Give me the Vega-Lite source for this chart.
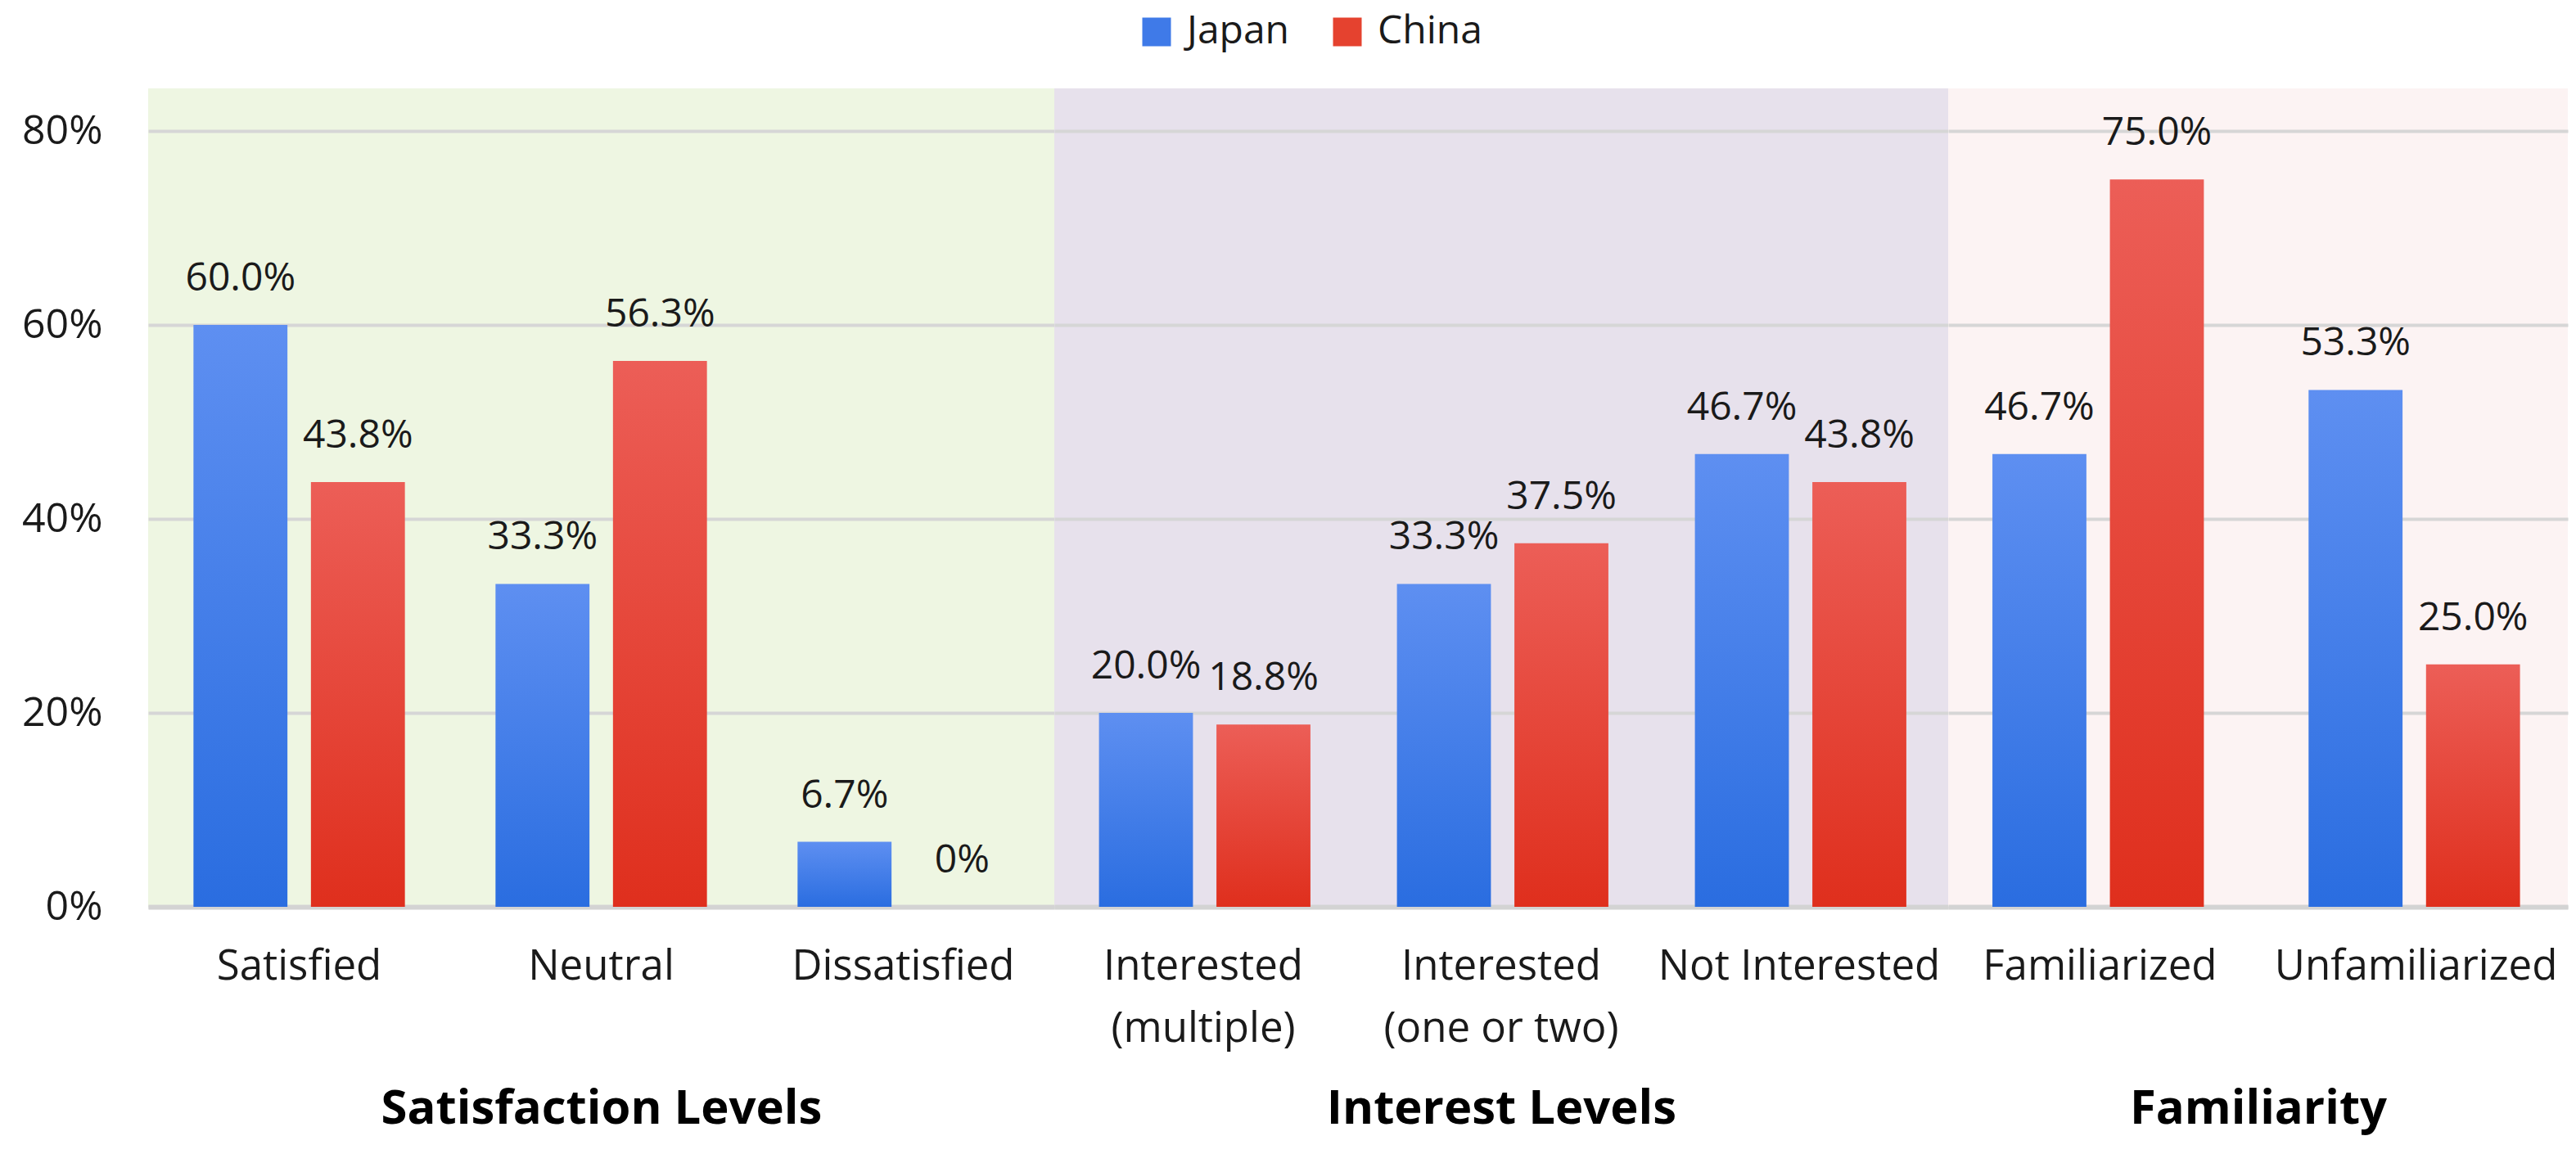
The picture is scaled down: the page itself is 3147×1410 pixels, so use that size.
{
  "$schema": "https://vega.github.io/schema/vega-lite/v6.json",
  "padding": {"left": 26, "top": 15, "right": 10, "bottom": 5},
  "background": "white",
  "data": {"name": "bars"},
  "datasets": {
    "bars": [
      {"group": "Satisfaction Levels", "category": "Satisfied", "country": "Japan", "value": 0.600, "label": "60.0%"},
      {"group": "Satisfaction Levels", "category": "Satisfied", "country": "China", "value": 0.438, "label": "43.8%"},
      {"group": "Satisfaction Levels", "category": "Neutral", "country": "Japan", "value": 0.333, "label": "33.3%"},
      {"group": "Satisfaction Levels", "category": "Neutral", "country": "China", "value": 0.563, "label": "56.3%"},
      {"group": "Satisfaction Levels", "category": "Dissatisfied", "country": "Japan", "value": 0.067, "label": "6.7%"},
      {"group": "Satisfaction Levels", "category": "Dissatisfied", "country": "China", "value": 0.0, "label": "0%"},
      {"group": "Interest Levels", "category": "Interested\n(multiple)", "country": "Japan", "value": 0.200, "label": "20.0%"},
      {"group": "Interest Levels", "category": "Interested\n(multiple)", "country": "China", "value": 0.188, "label": "18.8%"},
      {"group": "Interest Levels", "category": "Interested\n(one or two)", "country": "Japan", "value": 0.333, "label": "33.3%"},
      {"group": "Interest Levels", "category": "Interested\n(one or two)", "country": "China", "value": 0.375, "label": "37.5%"},
      {"group": "Interest Levels", "category": "Not Interested", "country": "Japan", "value": 0.467, "label": "46.7%"},
      {"group": "Interest Levels", "category": "Not Interested", "country": "China", "value": 0.438, "label": "43.8%"},
      {"group": "Familiarity", "category": "Familiarized", "country": "Japan", "value": 0.467, "label": "46.7%"},
      {"group": "Familiarity", "category": "Familiarized", "country": "China", "value": 0.750, "label": "75.0%"},
      {"group": "Familiarity", "category": "Unfamiliarized", "country": "Japan", "value": 0.533, "label": "53.3%"},
      {"group": "Familiarity", "category": "Unfamiliarized", "country": "China", "value": 0.250, "label": "25.0%"}
    ]
  },
  "config": {
    "font": "Open Sans",
    "view": {"stroke": null},
    "concat": {"spacing": 0},
    "axisX": {
      "labelAngle": 0,
      "labelFontSize": 51,
      "labelColor": "#1a1a1a",
      "labelPadding": 48,
      "labelLineHeight": 76,
      "labelLimit": 0,
      "labelExpr": "split(datum.label, '\\n')",
      "ticks": false,
      "domainColor": "#d3d3d3",
      "domainWidth": 6,
      "titleFontSize": 58,
      "titleFontWeight": "bold",
      "titleColor": "#000000",
      "titleBaseline": "middle",
      "titleY": 247
    },
    "axisY": {
      "format": ".0%",
      "labelFontSize": 50,
      "labelColor": "#1a1a1a",
      "labelPadding": 56,
      "ticks": false,
      "domain": false,
      "gridColor": "#d6d6d6",
      "gridWidth": 4,
      "title": null
    },
    "legend": {
      "orient": "none",
      "direction": "horizontal",
      "legendX": 1208,
      "legendY": -93,
      "title": null,
      "symbolType": "square",
      "symbolSize": 1225,
      "symbolStrokeWidth": 0,
      "labelFontSize": 48,
      "labelColor": "#1a1a1a",
      "labelOffset": 13,
      "columnPadding": 46
    }
  },
  "hconcat": [
    {
      "width": 1107,
      "height": 1000,
      "view": {"fill": "#eef6e2", "stroke": null},
      "transform": [{"filter": "datum.group === 'Satisfaction Levels'"}],
      "encoding": {
        "x": {"field": "category", "type": "nominal", "sort": ["Satisfied", "Neutral", "Dissatisfied"], "scale": {"paddingInner": 0.3, "paddingOuter": 0.15}, "axis": {"title": "Satisfaction Levels"}},
        "xOffset": {"field": "country", "type": "nominal", "sort": ["Japan", "China"], "scale": {"paddingInner": 0.2}},
        "y": {"field": "value", "type": "quantitative", "scale": {"domain": [0, 0.844]}, "axis": {"values": [0, 0.2, 0.4, 0.6, 0.8]}}
      },
      "layer": [
        {
          "mark": {"type": "bar"},
          "encoding": {
            "color": {"condition": {"test": "datum.country === 'Japan'", "value": {"gradient": "linear", "x1": 0, "y1": 0, "x2": 0, "y2": 1, "stops": [{"offset": 0, "color": "#5e8ff1"}, {"offset": 1, "color": "#2a6de0"}]}},
              "value": {"gradient": "linear", "x1": 0, "y1": 0, "x2": 0, "y2": 1, "stops": [{"offset": 0, "color": "#ec5e57"}, {"offset": 1, "color": "#df2f1d"}]}}
          }
        },
        {
          "mark": {"type": "text", "dy": -56, "fontSize": 48, "color": "#1a1a1a"},
          "encoding": {"text": {"field": "label", "type": "nominal"}}
        },
        {
          "transform": [{"filter": "false"}],
          "mark": {"type": "bar"},
          "encoding": {
            "color": {"field": "country", "type": "nominal", "scale": {"domain": ["Japan", "China"], "range": ["#3f7ae8", "#e5422f"]}}
          }
        }
      ]
    },
    {
      "width": 1092,
      "height": 1000,
      "view": {"fill": "#e7e1ec", "stroke": null},
      "transform": [{"filter": "datum.group === 'Interest Levels'"}],
      "encoding": {
        "x": {"field": "category", "type": "nominal", "sort": ["Interested\n(multiple)", "Interested\n(one or two)", "Not Interested"], "scale": {"paddingInner": 0.3, "paddingOuter": 0.15}, "axis": {"title": "Interest Levels"}},
        "xOffset": {"field": "country", "type": "nominal", "sort": ["Japan", "China"], "scale": {"paddingInner": 0.2}},
        "y": {"field": "value", "type": "quantitative", "scale": {"domain": [0, 0.844]}, "axis": {"labels": false, "title": null, "values": [0, 0.2, 0.4, 0.6, 0.8]}}
      },
      "layer": [
        {
          "mark": {"type": "bar"},
          "encoding": {
            "color": {"condition": {"test": "datum.country === 'Japan'", "value": {"gradient": "linear", "x1": 0, "y1": 0, "x2": 0, "y2": 1, "stops": [{"offset": 0, "color": "#5e8ff1"}, {"offset": 1, "color": "#2a6de0"}]}},
              "value": {"gradient": "linear", "x1": 0, "y1": 0, "x2": 0, "y2": 1, "stops": [{"offset": 0, "color": "#ec5e57"}, {"offset": 1, "color": "#df2f1d"}]}}
          }
        },
        {
          "mark": {"type": "text", "dy": -56, "fontSize": 48, "color": "#1a1a1a"},
          "encoding": {"text": {"field": "label", "type": "nominal"}}
        }
      ]
    },
    {
      "width": 757,
      "height": 1000,
      "view": {"fill": "#fcf3f3", "stroke": null},
      "transform": [{"filter": "datum.group === 'Familiarity'"}],
      "encoding": {
        "x": {"field": "category", "type": "nominal", "sort": ["Familiarized", "Unfamiliarized"], "scale": {"paddingInner": 0.32, "paddingOuter": 0.14}, "axis": {"title": "Familiarity"}},
        "xOffset": {"field": "country", "type": "nominal", "sort": ["Japan", "China"], "scale": {"paddingInner": 0.2}},
        "y": {"field": "value", "type": "quantitative", "scale": {"domain": [0, 0.844]}, "axis": {"labels": false, "title": null, "values": [0, 0.2, 0.4, 0.6, 0.8]}}
      },
      "layer": [
        {
          "mark": {"type": "bar"},
          "encoding": {
            "color": {"condition": {"test": "datum.country === 'Japan'", "value": {"gradient": "linear", "x1": 0, "y1": 0, "x2": 0, "y2": 1, "stops": [{"offset": 0, "color": "#5e8ff1"}, {"offset": 1, "color": "#2a6de0"}]}},
              "value": {"gradient": "linear", "x1": 0, "y1": 0, "x2": 0, "y2": 1, "stops": [{"offset": 0, "color": "#ec5e57"}, {"offset": 1, "color": "#df2f1d"}]}}
          }
        },
        {
          "mark": {"type": "text", "dy": -56, "fontSize": 48, "color": "#1a1a1a"},
          "encoding": {"text": {"field": "label", "type": "nominal"}}
        }
      ]
    }
  ]
}
